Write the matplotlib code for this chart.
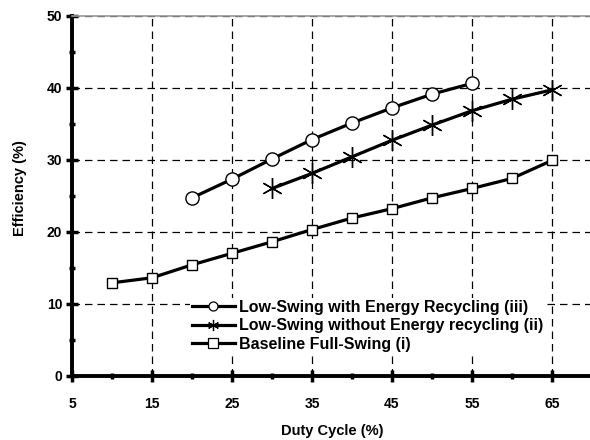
import matplotlib
matplotlib.use("Agg")
from matplotlib import pyplot as plt
from matplotlib.lines import Line2D
from matplotlib.ticker import MultipleLocator

plt.rcParams['font.family'] = ['Liberation Sans', 'DejaVu Sans']
plt.rcParams['font.weight'] = 'bold'

x_iii = [20, 25, 30, 35, 40, 45, 50, 55]
eff_iii = [24.7, 27.3, 30.1, 32.8, 35.1, 37.2, 39.1, 40.6]
x_ii = [30, 35, 40, 45, 50, 55, 60, 65]
eff_ii = [26.0, 28.1, 30.4, 32.7, 34.8, 36.8, 38.4, 39.7]
x_i = [10, 15, 20, 25, 30, 35, 40, 45, 50, 55, 60, 65]
eff_i = [12.9, 13.6, 15.4, 17.0, 18.6, 20.3, 21.9, 23.2, 24.7, 26.0, 27.4, 29.9]

labels = ['Low-Swing with Energy Recycling (iii)',
          'Low-Swing without Energy recycling (ii)',
          'Baseline Full-Swing (i)']
xticks = [5, 15, 25, 35, 45, 55, 65]
yticks = [0, 10, 20, 30, 40, 50]

star = (6, 2, 0)

fig = plt.figure(figsize=(5.9, 4.4), dpi=100)
ax = fig.add_axes([72 / 590, 1 - 375.7 / 440, 518 / 590, 360 / 440])

ax.plot(x_iii, eff_iii, color='black', lw=2.3, marker='o', ms=9.5,
        mfc='white', mec='black', mew=1.0, zorder=3)
ax.plot(x_ii, eff_ii, color='black', lw=2.3, marker=star, ms=15,
        mec='black', mew=1.0, zorder=3)
ax.plot(x_i, eff_i, color='black', lw=2.3, marker='s', ms=7.8,
        mfc='white', mec='black', mew=1.0, zorder=3)

ax.set_xlim(5, 69.75)
ax.set_ylim(0, 50)
ax.set_xticks(xticks)
ax.set_yticks(yticks)
ax.xaxis.set_minor_locator(MultipleLocator(5))
ax.yaxis.set_minor_locator(MultipleLocator(5))
ax.tick_params(which='major', direction='inout', length=8, width=2.5,
               labelsize=10, pad=3)
ax.tick_params(axis='x', which='major', pad=11)
ax.tick_params(which='minor', direction='inout', length=4, width=2.5)

ax.grid(True, which='major', color='black', ls=(0, (6, 4)), lw=0.9)
ax.set_axisbelow(True)

ax.spines['left'].set_linewidth(2.8)
ax.spines['bottom'].set_linewidth(2.8)
ax.spines['right'].set_visible(False)
ax.spines['top'].set_color('#999999')
ax.spines['top'].set_linewidth(1.2)

ax.set_xlabel('Duty Cycle (%)', fontsize=10.5, fontweight='bold')
ax.xaxis.set_label_coords((332 - 72) / 518, -(424 - 375.7) / 360)
ax.set_ylabel('Efficiency (%)', fontsize=10.5, fontweight='bold')
ax.yaxis.set_label_coords(-(72 - 27) / 518, (375.7 - 188) / 360)

handles = [
    Line2D([], [], color='black', lw=2.3, marker='o', ms=6.5, mfc='white', mec='black', mew=0.9),
    Line2D([], [], color='black', lw=2.3, marker=star, ms=8, mec='black', mew=0.9),
    Line2D([], [], color='black', lw=2.3, marker='s', ms=6.5, mfc='white', mec='black', mew=0.9),
]
leg = ax.legend(handles, labels, loc='upper left',
                bbox_to_anchor=((190 - 72) / 518, (375.7 - 298) / 360),
                frameon=True, fancybox=False, edgecolor='none', framealpha=1,
                prop={'weight': 'bold', 'size': 11.5}, handlelength=2.7,
                handletextpad=0.25, labelspacing=0.22, borderpad=0.1,
                borderaxespad=0)
leg.set_zorder(4)

fig.savefig('out.png', dpi=100)
